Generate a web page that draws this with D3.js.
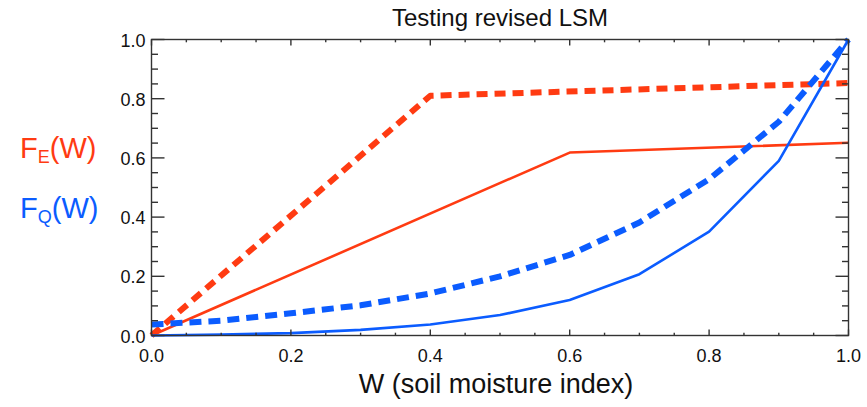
<!DOCTYPE html>
<html>
<head>
<meta charset="utf-8">
<script src="https://cdn.jsdelivr.net/npm/d3@7"></script>
<style>
  body { margin: 0; background: #fff; }
  svg { font-family: "Liberation Sans", Arial, sans-serif; }
  .tick-label { font-size: 18px; fill: #111; }
</style>
</head>
<body>
<div id="chart"></div>
<script>
// soil moisture index
const wValues = [0, 0.1, 0.2, 0.3, 0.4, 0.5, 0.6, 0.7, 0.8, 0.9, 1.0];

// F_E(W) — piecewise linear
const feSolidW = [0, 0.6, 1.0];
const feSolid = [0, 0.618, 0.651];
const feDashW = [0, 0.4, 1.0];
const feDash = [0, 0.81, 0.853];

// F_Q(W)
const fqSolid = [0, 0.003, 0.008, 0.019, 0.037, 0.069, 0.12, 0.207, 0.351, 0.59, 1.0];
const fqDash = [0.037, 0.05, 0.075, 0.102, 0.142, 0.2, 0.272, 0.382, 0.528, 0.722, 1.0];

const xTicks = [0, 0.2, 0.4, 0.6, 0.8, 1.0];
const yTicks = [0, 0.2, 0.4, 0.6, 0.8, 1.0];

const red = '#ff3b12';
const blue = '#0b5cff';

const width = 867;
const height = 407;
const margin = { left: 151.5, right: 18.5, top: 39.5, bottom: 71.5 };

const svg = d3.select('#chart')
  .append('svg')
  .attr('width', width)
  .attr('height', height);

const x = d3.scaleLinear().domain([0, 1]).range([margin.left, width - margin.right]);
const y = d3.scaleLinear().domain([0, 1]).range([height - margin.bottom, margin.top]);

const plot = svg.append('g');

// lines
const line = d3.line().x((d) => x(d[0])).y((d) => y(d[1]));

const series = [
  { pts: feSolidW.map((w, i) => [w, feSolid[i]]), color: red, width: 2.6, dash: null },
  { pts: feDashW.map((w, i) => [w, feDash[i]]), color: red, width: 6, dash: '11,7' },
  { pts: wValues.map((w, i) => [w, fqSolid[i]]), color: blue, width: 2.6, dash: null },
  { pts: wValues.map((w, i) => [w, fqDash[i]]), color: blue, width: 6, dash: '12,7' },
];

series.forEach((s) => {
  plot.append('path')
    .attr('d', line(s.pts))
    .attr('fill', 'none')
    .attr('stroke', s.color)
    .attr('stroke-width', s.width)
    .attr('stroke-dasharray', s.dash)
    .attr('stroke-linejoin', 'round');
});

// axes box and ticks
const axisColor = '#333';
const axes = svg.append('g').attr('stroke', axisColor).attr('stroke-width', 1.4);

axes.append('rect')
  .attr('x', x(0)).attr('y', y(1))
  .attr('width', x(1) - x(0)).attr('height', y(0) - y(1))
  .attr('fill', 'none');

const minorX = d3.range(0, 1.0001, 0.05);
const minorY = d3.range(0, 1.0001, 0.05);

minorX.forEach((v) => {
  const major = xTicks.some((t) => Math.abs(t - v) < 1e-6);
  const len = major ? 6 : 2.8;
  axes.append('line').attr('x1', x(v)).attr('x2', x(v)).attr('y1', y(0)).attr('y2', y(0) - len);
  axes.append('line').attr('x1', x(v)).attr('x2', x(v)).attr('y1', y(1)).attr('y2', y(1) + len);
});

minorY.forEach((v) => {
  const major = yTicks.some((t) => Math.abs(t - v) < 1e-6);
  const len = major ? 13 : 6.5;
  axes.append('line').attr('x1', x(0)).attr('x2', x(0) + len).attr('y1', y(v)).attr('y2', y(v));
  axes.append('line').attr('x1', x(1)).attr('x2', x(1) - len).attr('y1', y(v)).attr('y2', y(v));
});

// tick labels
svg.append('g').selectAll('text')
  .data(xTicks)
  .join('text')
  .attr('class', 'tick-label')
  .attr('x', (d) => x(d))
  .attr('y', y(0) + 26)
  .attr('text-anchor', 'middle')
  .text((d) => d.toFixed(1));

svg.append('g').selectAll('text')
  .data(yTicks)
  .join('text')
  .attr('class', 'tick-label')
  .attr('x', x(0) - 6)
  .attr('y', (d) => y(d) + 7)
  .attr('text-anchor', 'end')
  .text((d) => d.toFixed(1));

// title and axis label
svg.append('text')
  .attr('x', (x(0) + x(1)) / 2)
  .attr('y', 26)
  .attr('text-anchor', 'middle')
  .attr('font-size', 24)
  .attr('fill', '#111')
  .text('Testing revised LSM');

svg.append('text')
  .attr('x', (x(0) + x(1)) / 2 - 4)
  .attr('y', 393)
  .attr('text-anchor', 'middle')
  .attr('font-size', 27)
  .attr('fill', '#111')
  .text('W (soil moisture index)');

// legend labels
const legend = [
  { sub: 'E', color: red, y: 158 },
  { sub: 'Q', color: blue, y: 218 },
];

legend.forEach((l) => {
  const t = svg.append('text')
    .attr('x', 20)
    .attr('y', l.y)
    .attr('font-size', 29)
    .attr('fill', l.color);
  t.append('tspan').text('F');
  t.append('tspan').attr('font-size', 18).attr('dy', 5).text(l.sub);
  t.append('tspan').attr('dy', -5).text('(W)');
});
</script>
</body>
</html>
